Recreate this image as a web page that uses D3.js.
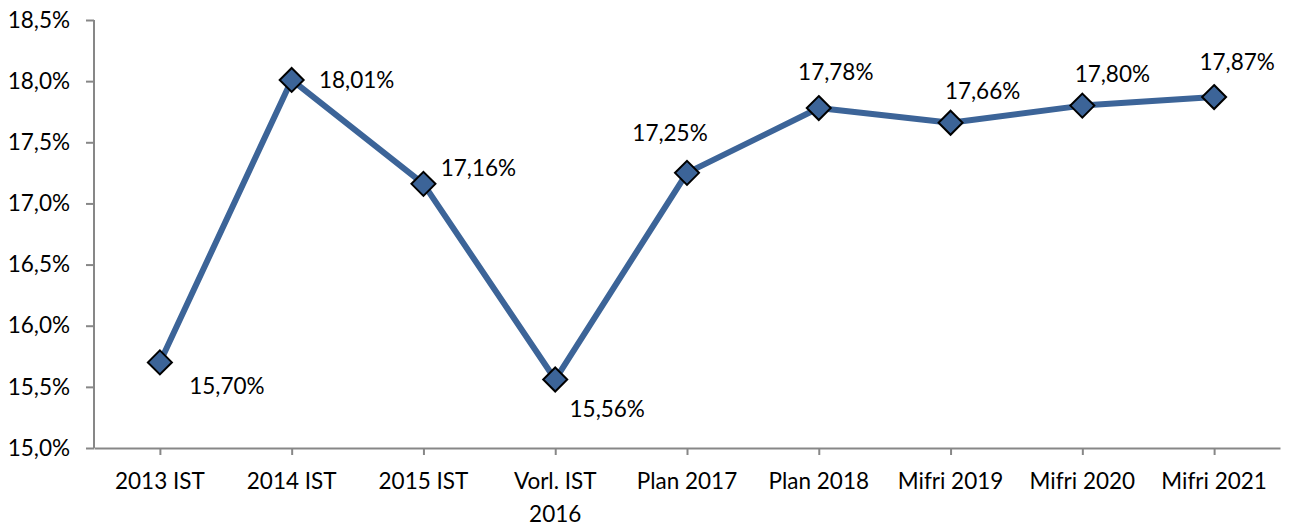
<!DOCTYPE html>
<html>
<head>
<meta charset="utf-8">
<script src="https://cdn.jsdelivr.net/npm/d3@7"></script>
<style>
  body { margin: 0; background: #fff; }
  text { font-family: Lato, "Open Sans", sans-serif; fill: #000; }
</style>
</head>
<body>
<div class="chart"></div>
<script>
// chart data
var categories = ["2013 IST", "2014 IST", "2015 IST", "Vorl. IST\n2016", "Plan 2017",
                  "Plan 2018", "Mifri 2019", "Mifri 2020", "Mifri 2021"];
var values = [15.70, 18.01, 17.16, 15.56, 17.25, 17.78, 17.66, 17.80, 17.87];
var yTicks = [15.0, 15.5, 16.0, 16.5, 17.0, 17.5, 18.0, 18.5];

// where each data label sits relative to its point (dx, dy)
var labelOffsets = [[67, 24], [65, 0], [55, -16], [52, 30], [-17, -40],
                    [17, -36], [32, -32], [30, -31], [23, -35]];

var svgWidth = 1289;
var svgHeight = 527;
var margin = { top: 20, right: 9, bottom: 79, left: 94 };
var chartWidth = svgWidth - margin.left - margin.right;
var chartHeight = svgHeight - margin.top - margin.bottom;
var fontSize = "22.5px";
var blue = "#3C6498";

var svg = d3.select(".chart")
    .append("svg")
    .attr("width", svgWidth)
    .attr("height", svgHeight);

var chartGroup = svg.append("g")
    .attr("transform", `translate(${margin.left}, ${margin.top})`);

var xScale = d3.scalePoint()
    .domain(categories)
    .range([0, chartWidth])
    .padding(0.5);

var yScale = d3.scaleLinear()
    .domain([15, 18.5])
    .range([chartHeight, 0]);

var fmt = function(v, digits) { return v.toFixed(digits).replace(".", ",") + "%"; };

// y axis
var yAxis = d3.axisLeft(yScale)
    .tickValues(yTicks)
    .tickSize(8)
    .tickPadding(16)
    .tickFormat(d => fmt(d, 1));

var yG = chartGroup.append("g").call(yAxis);
yG.select(".domain").attr("stroke", "#878787").attr("stroke-width", 2).attr("d", `M0,0V${chartHeight}`);
yG.selectAll(".tick line").attr("stroke", "#878787").attr("stroke-width", 2);
yG.selectAll(".tick text").attr("font-size", fontSize).attr("fill", "#000").attr("font-family", "Lato");

// x axis
var xAxis = d3.axisBottom(xScale)
    .tickSize(7)
    .tickSizeOuter(0)
    .tickFormat("");

var xG = chartGroup.append("g")
    .attr("transform", `translate(0, ${chartHeight})`)
    .call(xAxis);
xG.select(".domain").attr("stroke", "#878787").attr("stroke-width", 2);
xG.selectAll(".tick line").attr("stroke", "#878787").attr("stroke-width", 2);

// category labels (some wrap to two lines)
var catText = chartGroup.append("g").selectAll("text")
    .data(categories)
    .enter()
    .append("text")
    .attr("x", d => xScale(d))
    .attr("y", chartHeight + 41)
    .attr("text-anchor", "middle")
    .attr("font-size", fontSize);

catText.each(function(d) {
    var lines = d.split("\n");
    var t = d3.select(this);
    lines.forEach(function(line, i) {
        t.append("tspan")
            .attr("x", xScale(d))
            .attr("dy", i === 0 ? 0 : 33)
            .text(line);
    });
});

// line
var line = d3.line()
    .x((d, i) => xScale(categories[i]))
    .y(d => yScale(d));

chartGroup.append("path")
    .datum(values)
    .attr("d", line)
    .attr("fill", "none")
    .attr("stroke", blue)
    .attr("stroke-width", 6)
    .attr("stroke-linejoin", "round");

// diamond markers
chartGroup.selectAll(".marker")
    .data(values)
    .enter()
    .append("path")
    .attr("class", "marker")
    .attr("transform", (d, i) => `translate(${xScale(categories[i])}, ${yScale(d)})`)
    .attr("d", "M0,-12L12,0L0,12L-12,0Z")
    .attr("fill", blue)
    .attr("stroke", "#000")
    .attr("stroke-width", 2);

// data labels
chartGroup.selectAll(".dlabel")
    .data(values)
    .enter()
    .append("text")
    .attr("class", "dlabel")
    .attr("x", (d, i) => xScale(categories[i]) + labelOffsets[i][0])
    .attr("y", (d, i) => yScale(d) + labelOffsets[i][1])
    .attr("dy", "0.35em")
    .attr("text-anchor", "middle")
    .attr("font-size", fontSize)
    .text(d => fmt(d, 2));
</script>
</body>
</html>
